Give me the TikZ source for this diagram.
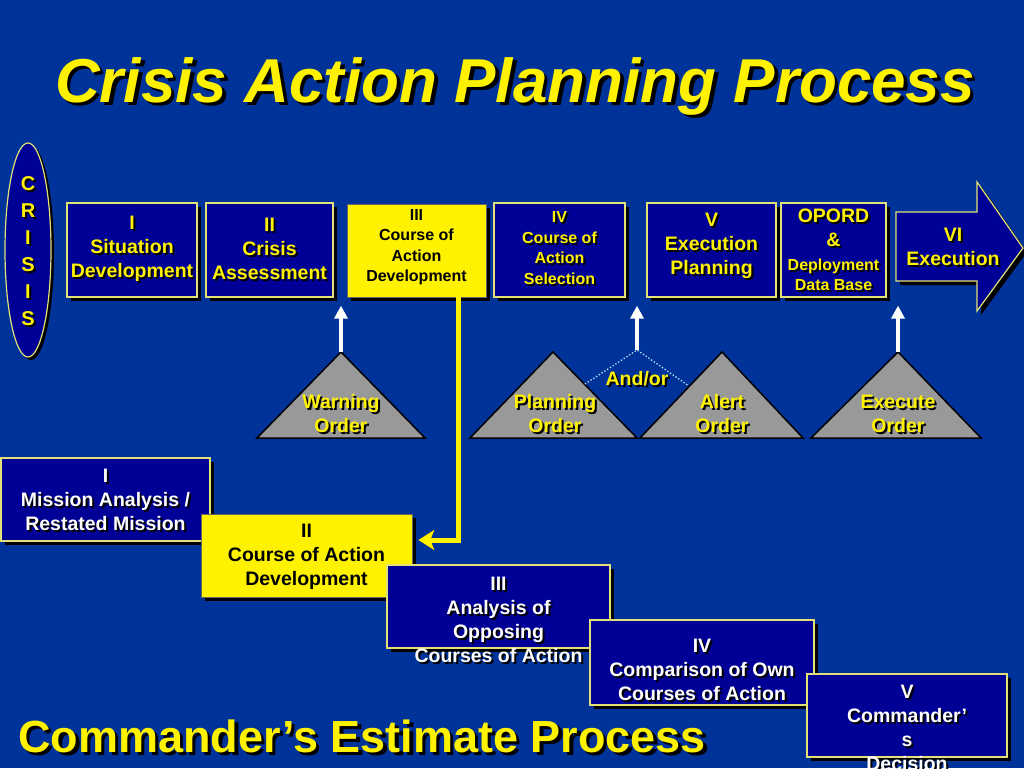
\documentclass[tikz,border=0pt]{standalone}
\usepackage{fontspec}
\setmainfont{Liberation Sans}
\usetikzlibrary{shadows,arrows.meta}
\definecolor{bg}{RGB}{0,51,153}
\definecolor{boxblue}{RGB}{0,0,150}
\definecolor{edge}{RGB}{225,225,120}
\definecolor{tri}{RGB}{153,153,153}
\definecolor{dotc}{RGB}{190,230,255}
\newcommand{\sh}[1]{\leavevmode\rlap{\kern2pt\raisebox{-2pt}{\textcolor{black}{#1}}}#1}
\newcommand{\shb}[1]{\leavevmode\rlap{\kern3.5pt\raisebox{-3.5pt}{\textcolor{black}{#1}}}#1}
\tikzset{
  box/.style 2 args={draw=edge, line width=1.2pt, fill=boxblue, inner sep=0pt,
     minimum width=#1, minimum height=#2,
     drop shadow={shadow xshift=4pt, shadow yshift=-4pt, opacity=1, fill=black}},
  ybox/.style 2 args={box={#1}{#2}, fill=yellow, draw=black!60, line width=0.6pt},
  txt/.style={align=center, inner sep=0pt, text=yellow, font=\fontsize{19.5}{24}\selectfont\bfseries},
  txts/.style={align=center, inner sep=0pt, text=yellow, font=\fontsize{16}{20.5}\selectfont\bfseries},
  wtxt/.style={txt, text=white},
  btxt/.style={txt, text=black},
  tri/.style={fill=tri, draw=black, line width=1.5pt, line join=miter},
  warrow/.style={white, line width=4pt, -{Triangle[width=13pt,length=13pt]}, shorten >=8pt},
  dotl/.style={dotc, dotted, line width=1.3pt},
  yline/.style={yellow, line width=5pt, -{Stealth[width=20pt,length=16pt,inset=4pt]}, shorten >=6pt},
  ylineshadow/.style={yline, black, shift={(3pt,-3pt)}},
}
\begin{document}
\begin{tikzpicture}[x=1pt,y={(0pt,-1pt)}]
\useasboundingbox (0,0) rectangle (1024,768);
\clip (0,0) rectangle (1024,768);
\fill[bg] (0,0) rectangle (1024,768);

% title
\node[inner sep=0pt, text=yellow, font=\fontsize{62}{70}\selectfont\bfseries\itshape, anchor=base] (title) at (515,102) {\shb{Crisis Action Planning Process}};

% CRISIS ellipse
\draw[fill=boxblue, draw=edge, line width=1.2pt, drop shadow={shadow xshift=3pt, shadow yshift=-3pt, opacity=1, fill=black}] (28,250) ellipse [x radius=23, y radius=107];
\node[align=center, inner sep=0pt, text=yellow, font=\fontsize{20}{27}\selectfont\bfseries] (crisis) at (28,252) {\sh{C}\\\sh{R}\\\sh{I}\\\sh{S}\\\sh{I}\\\sh{S}};

% top row boxes
\node[box={130pt}{94pt}] (bI) at (132,250) {};
\node[txt] (tI) at (132,250) {\sh{I}\\\sh{Situation}\\\sh{Development}};
\node[box={127pt}{94pt}] (bII) at (269.5,250) {};
\node[txt] (tII) at (269.5,250) {\sh{II}\\\sh{Crisis}\\\sh{Assessment}};
\node[ybox={139pt}{93pt}] (bIII) at (416.5,250.5) {};
\node[txts, text=black] (tIII) at (416.5,247) {III\\Course of\\Action\\Development};
\node[box={131pt}{94pt}] (bIV) at (559.5,250) {};
\node[txts] (tIV) at (559.5,249) {\sh{IV}\\\sh{Course of}\\\sh{Action}\\\sh{Selection}};
\node[box={129pt}{94pt}] (bV) at (711.5,250) {};
\node[txt] (tV) at (711.5,247) {\sh{V}\\\sh{Execution}\\\sh{Planning}};
\node[box={105pt}{94pt}] (bOP) at (833.5,250) {};
\node[txt] (tOP) at (833.5,251) {\sh{OPORD}\\\sh{\&}\\{\fontsize{16}{20}\selectfont\sh{Deployment}}\\[-4pt]{\fontsize{16}{20}\selectfont\sh{Data Base}}};

% VI arrow
\draw[fill=boxblue, draw=edge, line width=1.2pt, line join=miter,
      drop shadow={shadow xshift=4pt, shadow yshift=-4pt, opacity=1, fill=black}]
  (896,212) -- (977,212) -- (977,182) -- (1023,248) -- (977,311) -- (977,281) -- (896,281) -- cycle;
\node[txt] (tVI) at (953,248) {\sh{VI}\\\sh{Execution}};

% triangles
\coordinate (aW) at (341,352);
\coordinate (aP) at (553,352);
\coordinate (aA) at (722,352);
\coordinate (aE) at (898,352);
\draw[tri] (257,438) -- (aW) -- (425,438) -- cycle;
\draw[tri] (470,438) -- (aP) -- (637,438) -- cycle;
\draw[tri] (640,438) -- (aA) -- (803,438) -- cycle;
\draw[tri] (811,438) -- (aE) -- (981,438) -- cycle;
\node[txt] (tW) at (341,415) {\sh{Warning}\\\sh{Order}};
\node[txt] (tP) at (555,415) {\sh{Planning}\\\sh{Order}};
\node[txt] (tA) at (722,415) {\sh{Alert}\\\sh{Order}};
\node[txt] (tE) at (898,415) {\sh{Execute}\\\sh{Order}};

% and/or join
\coordinate (jo) at (637,350);
\coordinate (jl) at (585,384);
\coordinate (jr) at (689,386);
\draw[dotl] (jl) -- (jo) -- (jr);
\node[txt, anchor=base] (andor) at (637,385) {\sh{And/or}};

% white arrows
\draw[warrow] (aW) -- (aW |- bII.south);
\draw[warrow] (jo) -- (jo |- bIV.south);
\draw[warrow] (aE) -- (aE |- bOP.south);

% lower staircase
\node[box={209pt}{83pt}] (mI) at (105.5,499.5) {};
\node[wtxt] (tmI) at (105.5,501) {\sh{I}\\\sh{Mission Analysis /}\\\sh{Restated Mission}};
\node[ybox={211pt}{83pt}] (mII) at (306.5,555.5) {};
\node[btxt] (tmII) at (306.5,557) {II\\Course of Action\\Development};
\node[box={223pt}{83pt}] (mIII) at (498.5,606.5) {};
\node[wtxt] (tmIII) at (498.5,621) {\sh{III}\\\sh{Analysis of}\\\sh{Opposing}\\\sh{Courses of Action}};
\node[box={224pt}{85pt}] (mIV) at (702,662.5) {};
\node[wtxt] (tmIV) at (702,671) {\sh{IV}\\\sh{Comparison of Own}\\\sh{Courses of Action}};
\node[box={200pt}{83pt}] (mV) at (907,715.5) {};
\node[wtxt] (tmV) at (907,729) {\sh{V}\\\sh{Commander’}\\\sh{s}\\\sh{Decision}};

% yellow connector
\coordinate (bend) at (458,540);
\draw[ylineshadow] (bIII.south -| bend) -- (bend) -- (mII.east |- bend);
\draw[yline] (bIII.south -| bend) -- (bend) -- (mII.east |- bend);

% bottom caption
\node[inner sep=0pt, text=yellow, font=\fontsize{45}{50}\selectfont\bfseries, anchor=base west] (cep) at (18,752) {\shb{Commander’s Estimate Process}};
\end{tikzpicture}
\end{document}
